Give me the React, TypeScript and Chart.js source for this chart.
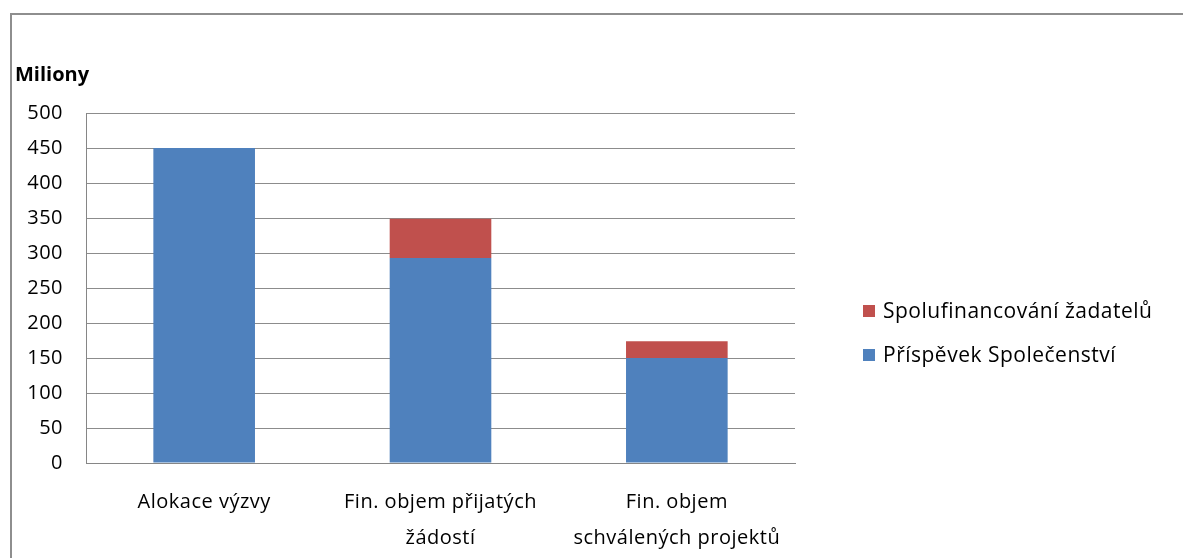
import React, { useEffect, useRef } from 'react';
import { Chart, registerables } from 'chart.js';

Chart.register(...registerables);

const categories: (string | string[])[] = [
  'Alokace výzvy',
  ['Fin. objem přijatých', 'žádostí'],
  ['Fin. objem', 'schválených projektů'],
];
const prispevekSpolecenstvi = [450, 293, 150];
const spolufinancovaniZadatelu = [0, 56, 24];
const seriesNames = ['Příspěvek Společenství', 'Spolufinancování žadatelů'];
const seriesColors = ['#4f81bd', '#c0504d'];
const yAxisTitle = 'Miliony';
const yMin = 0;
const yMax = 500;
const yStep = 50;

const FONT = '"Open Sans", "DejaVu Sans", sans-serif';

const overlayPlugin = {
  id: 'overlay',
  beforeUpdate(chart: any) {
    chart.ctx.letterSpacing = '0.5px';
  },
  beforeDraw(chart: any) {
    chart.ctx.letterSpacing = '0.5px';
  },
  afterDraw(chart: any) {
    const ctx = chart.ctx as CanvasRenderingContext2D;
    ctx.save();
    (ctx as any).letterSpacing = '0px';
    ctx.font = `bold 20px ${FONT}`;
    ctx.fillStyle = '#000';
    ctx.textBaseline = 'middle';
    ctx.textAlign = 'left';
    ctx.fillText(yAxisTitle, 15, 75);
    const items = [...chart.data.datasets].reverse();
    items.forEach((d: any, i: number) => {
      const cy = 311 + i * 44;
      ctx.fillStyle = d.backgroundColor;
      ctx.fillRect(863, cy - 6, 12, 12);
      ctx.fillStyle = '#000';
      (ctx as any).letterSpacing = '0.5px';
      ctx.font = `21px ${FONT}`;
      ctx.fillText(d.label, 883, cy + 1);
    });
    ctx.restore();
  },
};

export default function App() {
  const ref = useRef<HTMLCanvasElement>(null);
  useEffect(() => {
    if (!ref.current) return;
    const chart = new Chart(ref.current, {
      type: 'bar',
      data: {
        labels: categories as any,
        datasets: [
          {
            label: seriesNames[0],
            data: prispevekSpolecenstvi,
            backgroundColor: seriesColors[0],
            borderWidth: 0,
            categoryPercentage: 1,
            barPercentage: 0.43,
          },
          {
            label: seriesNames[1],
            data: spolufinancovaniZadatelu,
            backgroundColor: seriesColors[1],
            borderWidth: 0,
            categoryPercentage: 1,
            barPercentage: 0.43,
          },
        ],
      },
      options: {
        animation: false,
        responsive: false,
        layout: { padding: { left: 0, top: 113, right: 388, bottom: 0 } },
        plugins: {
          legend: { display: false },
          tooltip: { enabled: false },
          title: { display: false },
        },
        scales: {
          x: {
            stacked: true,
            grid: { display: false, drawTicks: false },
            border: { color: '#868686', width: 1 },
            ticks: {
              color: '#000',
              font: { family: FONT, size: 20, lineHeight: 1.8 },
              padding: 21,
              maxRotation: 0,
              autoSkip: false,
            },
            afterFit: (s: any) => {
              s.height = 95;
            },
          },
          y: {
            stacked: true,
            min: yMin,
            max: yMax,
            grid: { color: '#8c8c8c', lineWidth: 1, drawTicks: false },
            border: { color: '#868686', width: 1 },
            ticks: {
              stepSize: yStep,
              color: '#000',
              font: { family: FONT, size: 20 },
              padding: 23,
            },
            afterFit: (s: any) => {
              s.width = 86;
            },
          },
        },
      },
      plugins: [overlayPlugin],
    });
    return () => chart.destroy();
  }, []);

  return (
    <div
      style={{
        position: 'fixed',
        left: 0,
        top: 0,
        width: 1183,
        height: 558,
        overflow: 'hidden',
        background: '#fff',
      }}
    >
      <div
        style={{
          position: 'absolute',
          left: 10,
          top: 13,
          width: 1400,
          height: 800,
          borderLeft: '2px solid #8e8e8e',
          borderTop: '2px solid #8e8e8e',
        }}
      />
      <canvas
        ref={ref}
        width={1183}
        height={558}
        style={{ position: 'absolute', left: 0, top: 0, width: 1183, height: 558 }}
      />
    </div>
  );
}
